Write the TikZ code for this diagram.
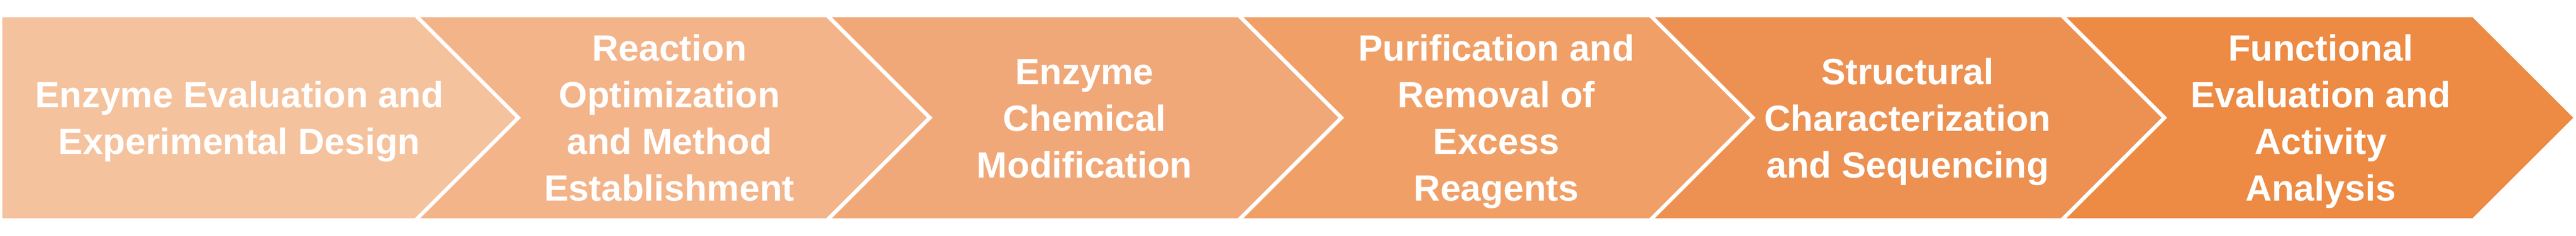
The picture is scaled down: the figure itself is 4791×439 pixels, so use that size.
\documentclass[tikz,border=0pt]{standalone}
\usepackage{fontspec}
\setmainfont{Liberation Sans}
\definecolor{c0}{HTML}{F5C29E}
\definecolor{c1}{HTML}{F3B48A}
\definecolor{c2}{HTML}{F1A878}
\definecolor{c3}{HTML}{F0A067}
\definecolor{c4}{HTML}{EC9152}
\definecolor{c5}{HTML}{ED8A43}
\begin{document}
\begin{tikzpicture}[x=0.1pt,y=-0.1pt,
  chev/.style={draw=white,line width=0.7pt,line join=miter},
  lbl/.style={text=white,align=center,inner sep=0pt,
    font=\fontsize{6.8}{8.7}\selectfont\bfseries}]
\useasboundingbox (0,0) rectangle (4791,439);
\fill[white] (0,0) rectangle (4791,439);
% first step: flat left side
\filldraw[chev,fill=c0] (1,28.5) -- (773,28.5) -- (964,219.5) -- (773,410.5) -- (1,410.5) -- cycle;
% chevrons
\foreach \i/\col in {1/c1,2/c2,3/c3,4/c4,5/c5}{
  \pgfmathsetmacro\L{773+(\i-1)*765.4}
  \pgfmathsetmacro\R{\L+765.4}
  \filldraw[chev,fill=\col] (\L,28.5) -- (\R,28.5) -- (\R+191,219.5) -- (\R,410.5)
     -- (\L,410.5) -- (\L+191,219.5) -- cycle;
}
\node[lbl] (s0) at (445,227) {\strut Enzyme Evaluation and\\\strut Experimental Design};
\node[lbl] (s1) at (1245,227) {\strut Reaction\\\strut Optimization\\\strut and Method\\\strut Establishment};
\node[lbl] (s2) at (2017,227) {\strut Enzyme\\\strut Chemical\\\strut Modification};
\node[lbl] (s3) at (2783,227) {\strut Purification and\\\strut Removal of\\\strut Excess\\\strut Reagents};
\node[lbl] (s4) at (3548,227) {\strut Structural\\\strut Characterization\\\strut and Sequencing};
\node[lbl] (s5) at (4316,227) {\strut Functional\\\strut Evaluation and\\\strut Activity\\\strut Analysis};
\end{tikzpicture}
\end{document}
